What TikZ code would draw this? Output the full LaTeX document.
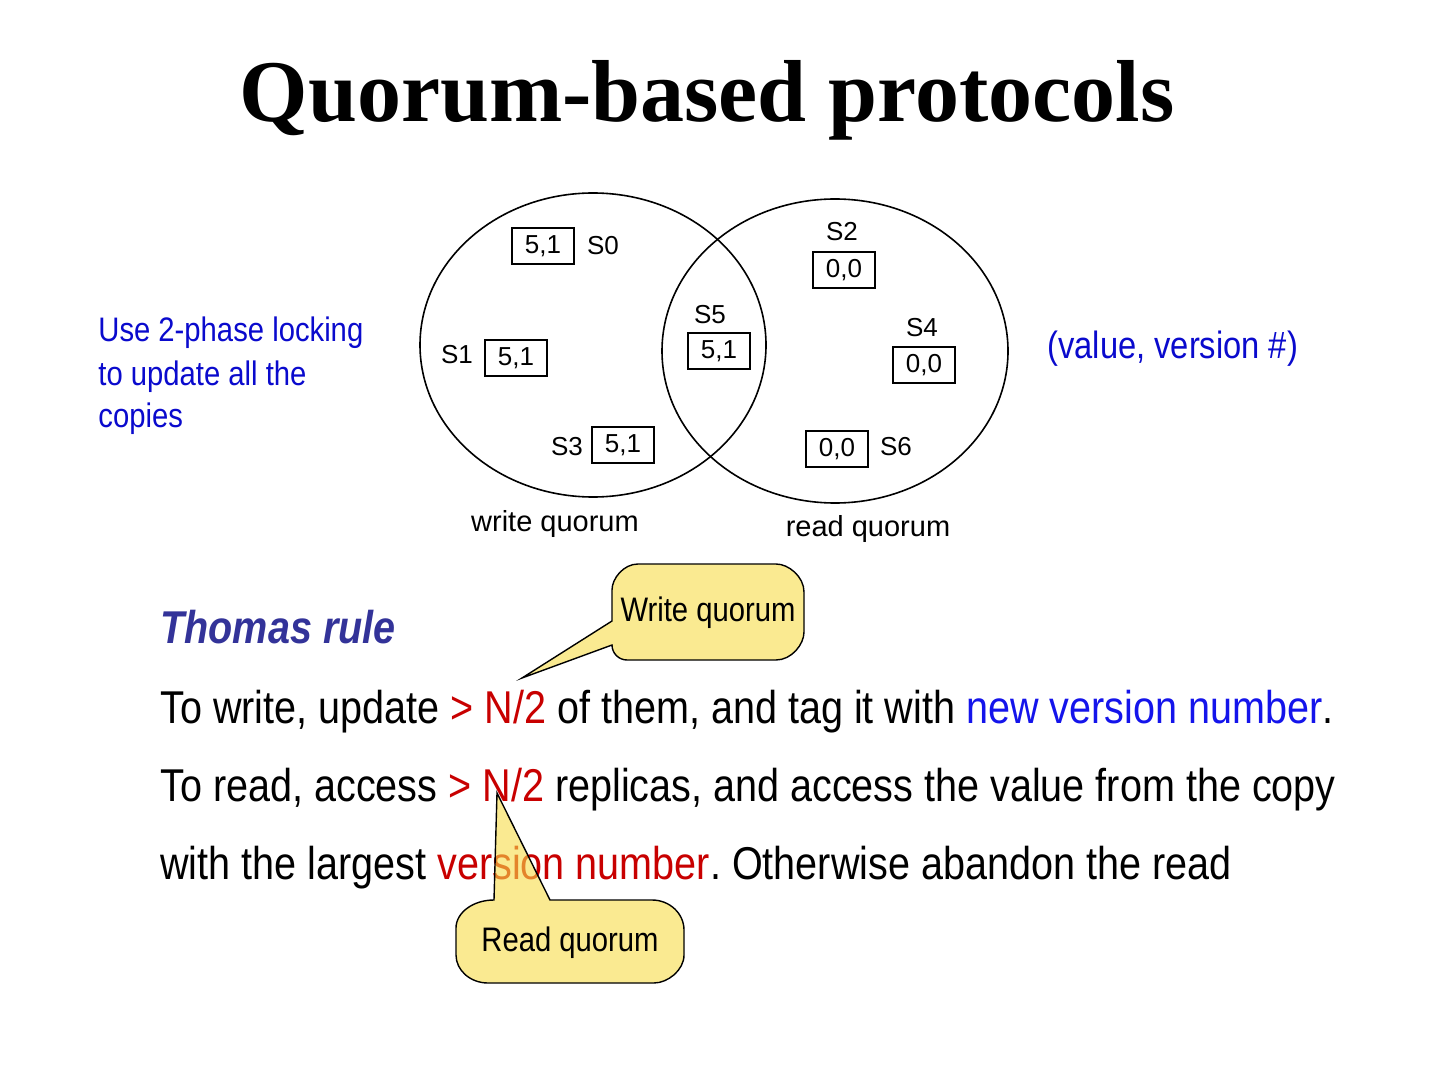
\documentclass[tikz,border=0pt]{standalone}
\usepackage{fontspec}
\setmainfont{Liberation Serif}
\newfontfamily\narrowfont{Liberation Sans}[FakeStretch=0.86]
\newfontfamily\helvfont{Liberation Sans}
\usetikzlibrary{shapes.geometric}
\definecolor{qred}{RGB}{200,0,0}
\definecolor{qblue}{RGB}{20,20,235}
\definecolor{noteblue}{RGB}{10,10,205}
\definecolor{rulecol}{RGB}{51,51,153}
\definecolor{bubblefill}{RGB}{247,220,72}
\frenchspacing
\begin{document}
\begin{tikzpicture}[x=0.5pt,y=-0.5pt,
  quorum/.style={draw, ellipse, line width=0.8pt, minimum width=173pt, minimum height=152pt, inner sep=0pt},
  srvbox/.style={draw, line width=0.8pt, minimum width=31pt, minimum height=18pt, inner sep=0pt, font=\helvfont\fontsize{13}{15}\selectfont},
  srvlbl/.style={inner sep=0pt, font=\helvfont\fontsize{13}{15}\selectfont},
  setlbl/.style={inner sep=0pt, font=\helvfont\fontsize{14.5}{17}\selectfont},
  note/.style={inner sep=0pt, text=noteblue, font=\narrowfont\fontsize{17}{21.5}\selectfont},
  body/.style={anchor=base west, inner sep=0pt, font=\narrowfont\fontsize{23}{27}\selectfont},
  bubble/.style={draw=black, line width=0.7pt, fill=bubblefill, fill opacity=0.6},
  bubbletext/.style={inner sep=0pt, font=\narrowfont\fontsize{17}{20}\selectfont}]
\useasboundingbox (0,0) rectangle (1440,1080);
% title
\node[inner sep=0pt, anchor=base, font=\bfseries\fontsize{44}{50}\selectfont] (title) at (707,122) {Quorum-based protocols};
% the two quorums
\node[quorum] (wset) at (593,345) {};
\node[quorum] (rset) at (835,351) {};
\node[setlbl] (wname) at (555,524) {write quorum};
\node[setlbl] (rname) at (868,529) {read quorum};
% servers with (value, version)
\node[srvbox] (s0) at (543,246) {5,1};
\node[srvlbl] (s0l) at (603,246) {S0};
\node[srvbox] (s1) at (516,358) {5,1};
\node[srvlbl] (s1l) at (457,355) {S1};
\node[srvbox] (s3) at (623,445) {5,1};
\node[srvlbl] (s3l) at (567,447) {S3};
\node[srvbox] (s5) at (719,351) {5,1};
\node[srvlbl] (s5l) at (710,315) {S5};
\node[srvbox] (s2) at (844,270) {0,0};
\node[srvlbl] (s2l) at (842,232) {S2};
\node[srvbox] (s4) at (924,365) {0,0};
\node[srvlbl] (s4l) at (922,328) {S4};
\node[srvbox] (s6) at (837,449) {0,0};
\node[srvlbl] (s6l) at (896,447) {S6};
% side notes
\node[note, anchor=base west, align=left] (lock) at (98,428)
{Use 2-phase locking\\to update all the\\copies};
\node[note, anchor=base west, font=\narrowfont\fontsize{19}{22}\selectfont] (pair) at (1047,359) {(value, version \#)};
% rule text
\node[body, text=rulecol, font=\narrowfont\bfseries\itshape\fontsize{23}{27}\selectfont] (rule) at (160,643) {Thomas rule};
\node[body] (line1) at (160,723)
{To write, update \textcolor{qred}{> N/2} of them, and tag it with \textcolor{qblue}{new version number}.};
\node[body] (line2) at (160,801)
{To read, access \textcolor{qred}{> N/2} replicas, and access the value from the copy};
\node[body] (line3) at (160,879)
{with the largest \textcolor{qred}{version number}. Otherwise abandon the read};
% callouts
\coordinate (wtip) at (522,678);
\path[bubble] (wtip) -- (612,645) .. controls (612,653.3) and (618.8,660) .. (627,660)
  -- (776,660) .. controls (791.4,660) and (804,644.6) .. (804,632)
  -- (804,592) .. controls (804,576.6) and (788.6,564) .. (776,564)
  -- (638,564) .. controls (623.7,564) and (612,578.3) .. (612,590)
  -- (612,621) -- cycle;
\node[bubbletext] (wq) at (708,613) {Write quorum};
\coordinate (rtip) at (497,793);
\path[bubble] (rtip) -- (550,900) -- (652,900) .. controls (669.6,900) and (684,913.5) .. (684,930)
  -- (684,955) .. controls (684,970.4) and (667.5,983) .. (654,983)
  -- (488,983) .. controls (470.4,983) and (456,970.4) .. (456,955)
  -- (456,928) .. controls (456,912.6) and (473.1,900) .. (494,900) -- cycle;
\node[bubbletext] (rq) at (570,943) {Read quorum};
\end{tikzpicture}
\end{document}
